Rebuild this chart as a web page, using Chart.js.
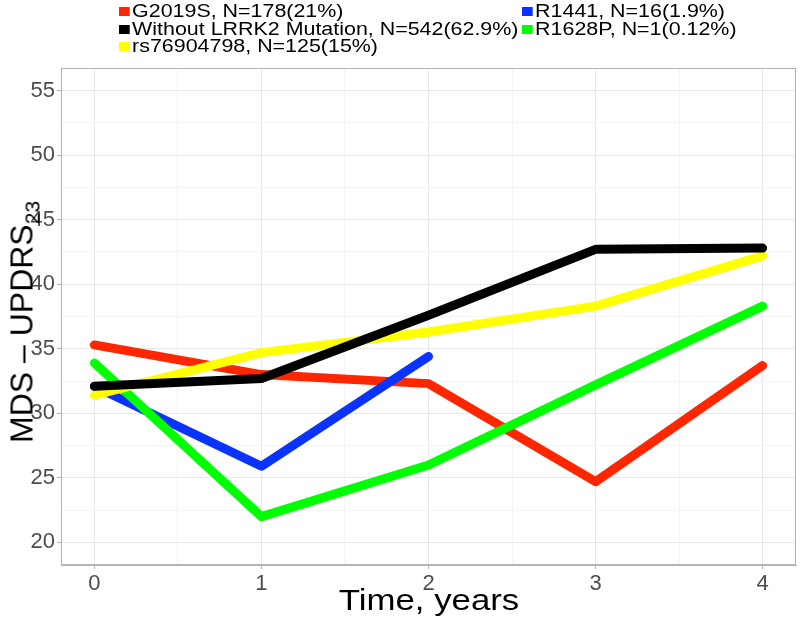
<!DOCTYPE html>
<html>
  <head>
    <meta charset="utf-8"/>
    <style>
      body { margin: 0; background: #fff; }
      #wrap { position: relative; width: 800px; height: 617px; font-family: "Liberation Sans", Arial, sans-serif; }
      #chart { position: absolute; left: 0; top: 0; }
      .leg { position: absolute; font-size: 18px; line-height: 18px; color: #000; white-space: nowrap;
             transform: scaleX(1.19); transform-origin: left center; }
      .leg i { display: inline-block; width: 9px; height: 9px; margin-right: 2px; vertical-align: 1px; }
      #ytitle { position: absolute; left: 22px; top: 322px; font-size: 32px; white-space: nowrap;
                transform: translate(-50%, -50%) rotate(-90deg); }
      #ytitle sub { font-size: 21px; vertical-align: -7px; line-height: 0; }
      #xtitle { position: absolute; left: 429px; top: 600px; font-size: 29px; white-space: nowrap;
                transform: translate(-50%, -50%) scaleX(1.2); }
    </style>
  </head>
  <body>
    <div id="wrap">
      <canvas id="chart" width="800" height="617"></canvas>
      <div id="legend"></div>
      <div id="ytitle">MDS &ndash; UPDRS<sub>23</sub></div>
      <div id="xtitle">Time, years</div>
    </div>

    <script src="https://cdn.jsdelivr.net/npm/chart.js@4/dist/chart.umd.min.js"></script>
    <script>
        // values
        var years = [0, 1, 2, 3, 4];
        var g2019s = [35.3, 33.0, 32.3, 24.7, 33.7];
        var noMutation = [32.1, 32.7, 37.6, 42.7, 42.8];
        var rs76904798 = [31.4, 34.7, 36.3, 38.3, 42.2];
        var r1441 = [32.1, 25.9, 34.4];
        var r1628p = [33.9, 22.0, 26.0, 32.2, 38.3];

        var xTicks = [0, 0.5, 1, 1.5, 2, 2.5, 3, 3.5, 4];
        var yTicks = [20, 22.5, 25, 27.5, 30, 32.5, 35, 37.5, 40, 42.5, 45, 47.5, 50, 52.5, 55];

        // legend entries, column by column as in the picture
        var legendItems = [
            {name: 'G2019S, N=178(21%)', color: '#ff2600', col: 0, row: 0},
            {name: 'Without LRRK2 Mutation, N=542(62.9%)', color: '#000000', col: 0, row: 1},
            {name: 'rs76904798, N=125(15%)', color: '#ffff00', col: 0, row: 2},
            {name: 'R1441, N=16(1.9%)', color: '#0a33ff', col: 1, row: 0},
            {name: 'R1628P, N=1(0.12%)', color: '#00ff00', col: 1, row: 1}
        ];

        var legend = document.getElementById('legend');
        legendItems.forEach(function(it) {
            var d = document.createElement('div');
            d.className = 'leg';
            d.style.left = (it.col === 0 ? 119 : 522) + 'px';
            d.style.top = (2 + it.row * 17.6) + 'px';
            d.innerHTML = '<i style="background:' + it.color + '"></i>' + it.name;
            legend.appendChild(d);
        });

        var toPoints = function(vals) {
            var pts = [];
            for (var i = 0; i < vals.length; i++) {
                pts.push({x: years[i], y: vals[i]});
            }
            return pts;
        };

        var makeSet = function(label, vals, color, order) {
            return {
                label: label,
                data: toPoints(vals),
                borderColor: color,
                backgroundColor: color,
                borderWidth: 9,
                borderCapStyle: 'round',
                borderJoinStyle: 'round',
                pointRadius: 0,
                pointHoverRadius: 0,
                tension: 0,
                order: order
            };
        };

        var isMajorX = function(v) { return Number.isInteger(v); };
        var isMajorY = function(v) { return v % 5 === 0; };

        var frame = {
            id: 'frame',
            afterDatasetsDraw: function(chart) {
                var a = chart.chartArea, c = chart.ctx;
                c.save();
                c.strokeStyle = '#b3b3b3';
                c.lineWidth = 1;
                c.strokeRect(a.left + 0.5, a.top + 0.5, a.right - a.left - 1, a.bottom - a.top - 1);
                c.restore();
            }
        };

        var ctx = document.getElementById('chart').getContext('2d');
        var chart = new Chart(ctx, {
            type: 'line',
            data: {
                datasets: [
                    makeSet('Without LRRK2 Mutation', noMutation, '#000000', 0),
                    makeSet('rs76904798', rs76904798, '#ffff00', 1),
                    makeSet('R1628P', r1628p, '#00ff00', 2),
                    makeSet('R1441', r1441, '#0a33ff', 3),
                    makeSet('G2019S', g2019s, '#ff2600', 4)
                ]
            },
            options: {
                responsive: false,
                animation: false,
                layout: { padding: {left: 0, right: 4, top: 68, bottom: 0} },
                plugins: { legend: {display: false}, tooltip: {enabled: false} },
                scales: {
                    x: {
                        type: 'linear',
                        min: -0.2,
                        max: 4.2,
                        afterBuildTicks: function(s) {
                            s.ticks = xTicks.map(function(v) { return {value: v}; });
                        },
                        afterFit: function(s) { s.height = 52; },
                        ticks: {
                            autoSkip: false,
                            maxRotation: 0,
                            padding: 2,
                            color: '#4d4d4d',
                            font: {family: 'Liberation Sans', size: 22},
                            callback: function(v) { return isMajorX(v) ? v : ''; }
                        },
                        grid: {
                            color: function(c) { return isMajorX(c.tick.value) ? '#e8e8e8' : '#f4f4f4'; },
                            tickColor: function(c) { return isMajorX(c.tick.value) ? '#b3b3b3' : 'rgba(0,0,0,0)'; },
                            tickLength: 4
                        },
                        border: {color: '#b3b3b3'}
                    },
                    y: {
                        type: 'linear',
                        min: 18.25,
                        max: 56.75,
                        afterBuildTicks: function(s) {
                            s.ticks = yTicks.map(function(v) { return {value: v}; });
                        },
                        afterFit: function(s) { s.width = 61; },
                        ticks: {
                            autoSkip: false,
                            padding: 2,
                            color: '#4d4d4d',
                            font: {family: 'Liberation Sans', size: 22},
                            callback: function(v) { return isMajorY(v) ? v : ''; }
                        },
                        grid: {
                            color: function(c) { return isMajorY(c.tick.value) ? '#e8e8e8' : '#f4f4f4'; },
                            tickColor: function(c) { return isMajorY(c.tick.value) ? '#b3b3b3' : 'rgba(0,0,0,0)'; },
                            tickLength: 4
                        },
                        border: {color: '#b3b3b3'}
                    }
                }
            },
            plugins: [frame]
        });
    </script>
  </body>
</html>
